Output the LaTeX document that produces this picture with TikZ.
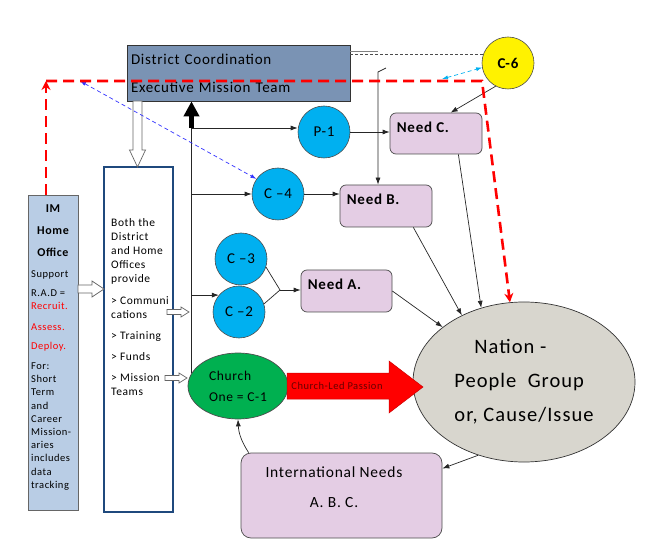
\documentclass[tikz,border=0pt]{standalone}
\usepackage{fontspec}
\setmainfont{Carlito}[LetterSpace=5]
\usetikzlibrary{arrows.meta,shapes.geometric}
\definecolor{distazul}{RGB}{122,147,180}
\definecolor{imazul}{RGB}{185,205,229}
\definecolor{bordeazul}{RGB}{31,73,125}
\definecolor{cian}{RGB}{0,176,240}
\definecolor{lila}{RGB}{228,205,228}
\definecolor{verde}{RGB}{0,176,80}
\definecolor{gris}{RGB}{216,214,206}
\tikzset{
  oficina/.style={rectangle, draw=black!80, line width=0.7pt, inner sep=0pt},
  circulo/.style={circle, draw=black!70, line width=0.6pt, fill=cian, minimum size=52pt, inner sep=0pt, font=\fontsize{15}{17}\selectfont},
  necesidad/.style={rectangle, rounded corners=6pt, draw=black!70, line width=0.7pt, fill=lila, inner sep=0pt},
  etiqueta/.style={anchor=north west, xshift=7pt, yshift=-9pt, inner sep=0pt, font=\bfseries\fontsize{15}{17}\selectfont},
  flecha/.style={-{Latex[length=7pt,width=5pt]}, black!85, line width=0.7pt},
  linea/.style={black!85, line width=0.7pt},
  hueca/.style={draw=black!60, fill=white, line width=0.7pt},
  rojadash/.style={red, line width=2.6pt, dash pattern=on 11pt off 6pt},
  azuldash/.style={dash pattern=on 4pt off 3pt, line width=0.7pt}
}
\begin{document}
\begin{tikzpicture}[x=1pt,y=-1pt]
    \useasboundingbox (0,0) rectangle (656,553);
    % Oficinas
    \node[oficina, fill=distazul, minimum width=223pt, minimum height=56pt, text width=215pt, align=left, font=\fontsize{15}{28}\selectfont] (district) at (238.5,73) {District Coordination\\Executive Mission Team};
    \node[oficina, draw=black!60, fill=imazul, minimum width=50pt, minimum height=315pt] (imbox) at (53,352.5) {};
    \node[font=\bfseries\fontsize{12}{22}\selectfont, align=center] (imtit) at (53,231) {IM\\Home\\Office};
    \node[anchor=north west, inner sep=0pt, align=left, font=\fontsize{10.5}{13.2}\selectfont] (imtxt) at (31,270.5) {Support\\[6pt]R.A.D =\\\textcolor{red}{Recruit.}\\[7pt]\textcolor{red}{Assess.}\\[6pt]\textcolor{red}{Deploy.}\\[7pt]For:\\Short\\Term\\and\\Career\\Mission-\\aries\\includes\\data\\tracking};
    \node[oficina, draw=bordeazul, line width=2pt, fill=white, minimum width=69pt, minimum height=345pt] (both) at (138.5,339.5) {};
    \node[anchor=north west, inner sep=0pt, align=left, font=\fontsize{11.5}{14}\selectfont] (bothtxt) at (111,218.5) {Both the\\District\\and Home\\Offices\\provide\\[8pt]> Communi\\cations\\[7pt]> Training\\[7pt]> Funds\\[7pt]> Mission\\Teams};
    % Flechas huecas
    \filldraw[hueca] (78,285) -- (92,285) -- (92,281) -- (104,289) -- (92,297) -- (92,293) -- (78,293) -- cycle;
    \filldraw[hueca] (133,101) -- (142,101) -- (142,150) -- (145.5,150) -- (137.5,167) -- (129.5,150) -- (133,150) -- cycle;
    \filldraw[hueca] (167,309.5) -- (181,309.5) -- (181,307) -- (189,312) -- (181,317) -- (181,314.5) -- (167,314.5) -- cycle;
    \filldraw[hueca] (165,375.5) -- (179,375.5) -- (179,373) -- (187,378) -- (179,383) -- (179,380.5) -- (165,380.5) -- cycle;
    % Circulos
    \node[circulo] (p1) at (324,132) {P-1};
    \node[circulo] (c4) at (278,194) {C –4};
    \node[circulo] (c3) at (241,259) {C –3};
    \node[circulo] (c2) at (239,312) {C –2};
    \node[circulo, fill=yellow, font=\bfseries\fontsize{15}{17}\selectfont] (c6) at (508,63) {C-6};
    % Necesidades
    \node[necesidad, minimum width=92pt, minimum height=41pt, label={[etiqueta]north west:Need C.}] (needc) at (436,133.5) {};
    \node[necesidad, minimum width=92pt, minimum height=42pt, label={[etiqueta]north west:Need B.}] (needb) at (386,206) {};
    \node[necesidad, minimum width=91pt, minimum height=42pt, label={[etiqueta]north west:Need A.}] (needa) at (346.5,291) {};
    \node[necesidad, rounded corners=10pt, minimum width=201pt, minimum height=85pt] (intl) at (341.5,495.5) {};
    \node[font=\fontsize{15.5}{30}\selectfont, align=center] (intltxt) at (334,487) {International Needs\\A. B. C.};
    % Iglesia y nacion
    \node[ellipse, draw=black!70, line width=0.7pt, fill=verde, minimum width=100pt, minimum height=66pt, inner sep=0pt, align=left, font=\fontsize{13.5}{21}\selectfont] (church) at (238,386) {Church\\One = C-1};
    \node[ellipse, draw=black!80, line width=0.7pt, fill=gris, minimum width=222pt, minimum height=160pt, inner sep=0pt, align=left, font=\fontsize{20.5}{34}\selectfont] (nation) at (524,382) {\hspace*{20pt}Nation -\\People\ \ Group\\or, Cause/Issue};
    \filldraw[fill=red, draw=red!80!black, line width=0.5pt] (287,373) -- (389,373) -- (389,361) -- (423,387) -- (389,413) -- (389,399) -- (287,399) -- cycle;
    \node[font=\fontsize{10.5}{12}\selectfont, text=red!40!black] (passion) at (337,386) {Church-Led Passion};
    % Conexiones
    \coordinate (spine) at (191.5,128);
    \draw[linea] (spine |- church.165) -- (spine);
    \draw[line width=5pt, -{Triangle[length=15pt,width=15pt]}] (spine) -- (spine |- district.south);
    \draw[flecha] (spine) -- (p1.west |- spine);
    \draw[flecha] (spine |- c4) -- (c4);
    \draw[flecha] (spine |- c2.140) -- (c2.140);
    \coordinate (junta) at (280,290);
    \draw[linea] (c3.-18) -- (junta) -- (c2.18);
    \draw[flecha] (junta) -- (needa.west |- junta);
    \draw[flecha] (p1) -- (needc.west |- p1);
    \draw[flecha] (c4) -- (needb.west |- c4);
    \draw[flecha] (needc.-43) -- (nation.120);
    \draw[flecha] (needb.-38) -- (nation.133);
    \draw[flecha] (needa.east) -- (nation.146);
    \draw[flecha] (nation.238) -- (intl.15);
    \draw[flecha] ([xshift=8pt]intl.north west) to[bend left=15] (church.south);
    \draw[flecha] (c6.242) -- (needc.55);
    % Lineas de arriba
    \coordinate (corte) at (378,51);
    \draw[gray, line width=0.8pt] (corte -| district.east) -- (corte);
    \draw[black!70, line width=0.8pt, dash pattern=on 3pt off 2pt] (c6.162 -| district.east) -- (c6.162);
    \coordinate (gancho) at (386,68);
    \coordinate (bajada) at (378,72);
    \draw[flecha] (gancho) -- (bajada) -- (bajada |- needb.north);
    % Lineas punteadas
    \coordinate (azulfin) at (80,81);
    \draw[azuldash, blue!80, {Latex[length=6pt,width=4pt]}-{Latex[length=6pt,width=4pt]}] (azulfin) -- (c4.145);
    \coordinate (cianfin) at (442,79);
    \draw[azuldash, cian, {Latex[length=6pt,width=4pt]}-{Latex[length=6pt,width=4pt]}] (cianfin) -- (c6.190);
    \coordinate (rojaesq) at (46,81);
    \coordinate (rojader) at (482,81);
    \draw[rojadash, -{Stealth[length=9pt,width=9pt]}] (imbox.north -| rojaesq) -- (rojaesq);
    \draw[rojadash, -{Stealth[length=9pt,width=9pt]}] (rojaesq) -- (rojader) -- (nation.100);
\end{tikzpicture}
\end{document}
